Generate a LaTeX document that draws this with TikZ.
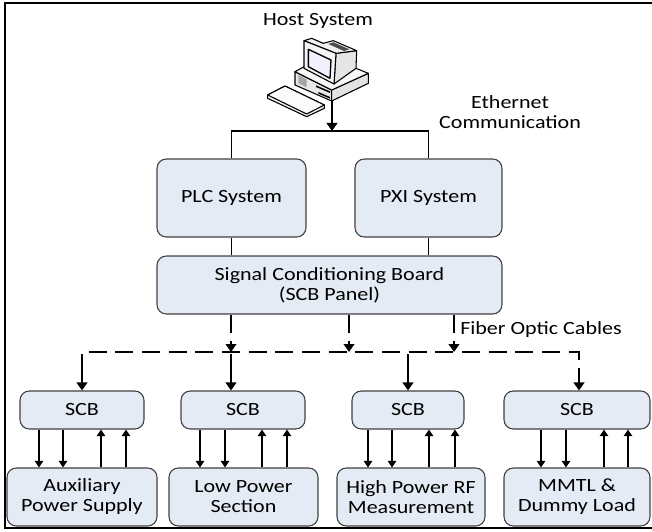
\documentclass[tikz,border=0pt]{standalone}
\usepackage{fontspec}
\setmainfont[FakeStretch=1.18]{Carlito}
\usetikzlibrary{arrows.meta}
\definecolor{boxfill}{HTML}{E4EBF5}
\definecolor{boxline}{HTML}{404040}
\tikzset{
  block/.style={draw=boxline, line width=0.8pt, fill=boxfill, rounded corners=7pt, inner sep=0pt,
    align=center, font=\fontsize{14}{15}\selectfont},
  label/.style={align=center, inner sep=0pt, font=\fontsize{14}{15}\selectfont},
  wire/.style={line width=1.4pt},
  dashwire/.style={line width=1.4pt, dash pattern=on 13.5pt off 6.5pt},
  tip/.style={-{Triangle[length=6pt,width=8pt]}},
  sigarrow/.style={line width=0.8pt, -{Triangle[length=5pt,width=6.5pt]}},
}
\begin{document}
\begin{tikzpicture}[x=0.75pt,y=-0.75pt]
  \useasboundingbox (0,0) rectangle (652,531);

  % Frame
  \draw[line width=1.8pt] (652,3) -- (5,3) -- (5,528) -- (652,528);

  % Computer
  \begin{scope}[shift={(230,0)},x=0.25pt,y=-0.25pt,draw=black,line width=0.8pt,line join=round]
    \filldraw[fill=gray!10] (113,285) -- (165,258) -- (283,315) -- (283,325) -- (230,350) -- (113,295) -- cycle;
    \filldraw[fill=gray!3] (113,285) -- (165,258) -- (283,315) -- (230,342) -- cycle;
    \filldraw[fill=gray!18] (195,215) -- (305,270) -- (305,303) -- (195,255) -- cycle;
    \filldraw[fill=gray!22] (305,270) -- (415,220) -- (415,250) -- (305,303) -- cycle;
    \filldraw[fill=gray!6] (195,215) -- (240,190) -- (378,205) -- (415,220) -- (305,270) -- cycle;
    \fill[gray!70] (205,225) -- (230,238) -- (230,262) -- (205,250) -- cycle;
    \fill[black] (258,256) -- (300,274) -- (300,279) -- (258,261) -- cycle;
    \fill[black] (265,276) -- (300,291) -- (300,296) -- (265,281) -- cycle;
    \filldraw[fill=gray!20] (318,160) -- (380,152) -- (378,205) -- (312,252) -- cycle;
    \filldraw[fill=gray!12] (222,122) -- (245,115) -- (280,130) -- (310,122) -- (380,152) -- (318,160) -- cycle;
    \fill[black!70] (295,132) -- (310,127) -- (358,148) -- (342,153) -- cycle;
    \filldraw[fill=gray!8] (222,122) -- (318,160) -- (312,252) -- (222,205) -- cycle;
    \filldraw[fill=blue!5,line width=1pt] (235,148) -- (303,180) -- (300,235) -- (235,200) -- cycle;
  \end{scope}

  % Upper blocks
  \node[block, minimum width=111.75pt, minimum height=58.5pt] (plc) at (231.5,198) {PLC System};
  \node[block, minimum width=110.25pt, minimum height=58.5pt] (pxi) at (428.5,198) {PXI System};
  \node[block, minimum width=258.75pt, minimum height=43.5pt] (panel) at (329.5,285)
    {Signal Conditioning Board\\(SCB Panel)};

  % Conditioning boards
  \node[block, minimum width=93pt, minimum height=28.5pt] (scba) at (82,410) {SCB};
  \node[block, minimum width=93pt, minimum height=28.5pt] (scbb) at (243,410) {SCB};
  \node[block, minimum width=84pt, minimum height=28.5pt] (scbc) at (408,410) {SCB};
  \node[block, minimum width=109.5pt, minimum height=28.5pt] (scbd) at (577,410) {SCB};

  % Lower blocks
  \node[block, minimum width=112.5pt, minimum height=43.5pt] (aux) at (82,497) {Auxiliary\\Power Supply};
  \node[block, minimum width=111.75pt, minimum height=43.5pt] (low) at (243.5,497) {Low Power\\Section};
  \node[block, minimum width=111pt, minimum height=43.5pt] (high) at (411,497) {High Power RF\\Measurement};
  \node[block, minimum width=109.5pt, minimum height=43.5pt] (mmtl) at (577,497) {MMTL \&\\Dummy Load};

  % Labels
  \node[label] (hostlabel) at (318,21) {Host System};
  \node[label] (ethlabel) at (510,112) {Ethernet\\Communication};
  \node[label] (fiberlabel) at (541,330) {Fiber Optic Cables};

  % Ethernet lines
  \coordinate (host) at (332,101);
  \coordinate (bus) at (332,131);
  \draw[wire, tip] (host) -- (bus);
  \draw[wire] (plc.north) |- (bus) -| (pxi.north);
  \draw[wire] (plc.south) -- (plc |- panel.north);
  \draw[wire] (pxi.south) -- (pxi |- panel.north);

  % Fiber lines
  \coordinate (fiberleft) at (82,352);
  \coordinate (fiberright) at (579,352);
  \coordinate (dropa) at (82,372);
  \coordinate (dropb) at (231,372);
  \coordinate (dropc) at (408,372);
  \coordinate (dropd) at (579,372);
  \draw[dashwire] (dropa) -- (fiberleft) -- (fiberright) -- (dropd);
  \draw[dashwire, tip] (231,0 |- panel.south) -- (231,352);
  \draw[dashwire, tip] (349,0 |- panel.south) -- (349,352);
  \draw[dashwire, tip] (454,0 |- panel.south) -- (454,352);
  \draw[dashwire] (dropb) -- (231,352);
  \draw[dashwire] (dropc) -- (408,352);
  \draw[wire, tip] (dropa) -- (dropa |- scba.north);
  \draw[wire, tip] (dropb) -- (dropb |- scbb.north);
  \draw[wire, tip] (dropc) -- (dropc |- scbc.north);
  \draw[wire, tip] (dropd) -- (dropd |- scbd.north);

  % Signals, auxiliary supply
  \draw[sigarrow] (39,0 |- scba.south) -- (39,0 |- aux.north);
  \draw[sigarrow] (63,0 |- scba.south) -- (63,0 |- aux.north);
  \draw[sigarrow] (101,0 |- aux.north) -- (101,0 |- scba.south);
  \draw[sigarrow] (126,0 |- aux.north) -- (126,0 |- scba.south);

  % Signals, low power
  \draw[sigarrow] (200,0 |- scbb.south) -- (200,0 |- low.north);
  \draw[sigarrow] (225,0 |- scbb.south) -- (225,0 |- low.north);
  \draw[sigarrow] (262,0 |- low.north) -- (262,0 |- scbb.south);
  \draw[sigarrow] (287,0 |- low.north) -- (287,0 |- scbb.south);

  % Signals, high power
  \draw[sigarrow] (368,0 |- scbc.south) -- (368,0 |- high.north);
  \draw[sigarrow] (392,0 |- scbc.south) -- (392,0 |- high.north);
  \draw[sigarrow] (429,0 |- high.north) -- (429,0 |- scbc.south);
  \draw[sigarrow] (455,0 |- high.north) -- (455,0 |- scbc.south);

  % Signals, MMTL
  \draw[sigarrow] (541,0 |- scbd.south) -- (541,0 |- mmtl.north);
  \draw[sigarrow] (566,0 |- scbd.south) -- (566,0 |- mmtl.north);
  \draw[sigarrow] (604,0 |- mmtl.north) -- (604,0 |- scbd.south);
  \draw[sigarrow] (628,0 |- mmtl.north) -- (628,0 |- scbd.south);

\end{tikzpicture}
\end{document}
